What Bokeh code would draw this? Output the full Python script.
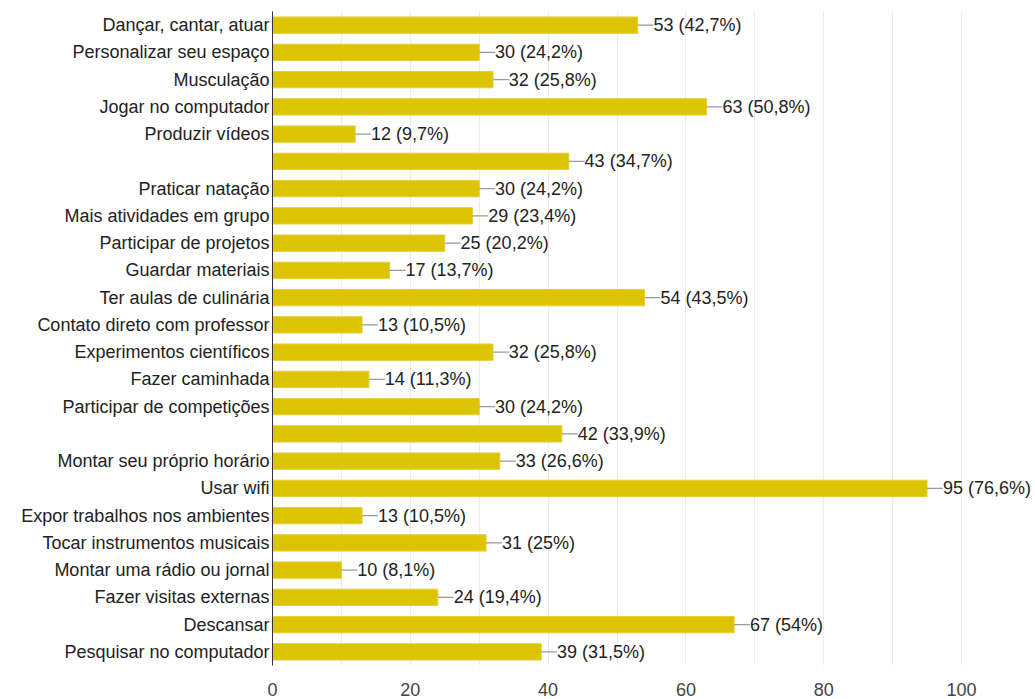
from bokeh.plotting import figure
from bokeh.models import ColumnDataSource, LabelSet, Range1d, FixedTicker
from bokeh.core.properties import value
from bokeh.embed import file_html
from bokeh.resources import INLINE

categories = [
    "Dançar, cantar, atuar", "Personalizar seu espaço", "Musculação",
    "Jogar no computador", "Produzir vídeos", "", "Praticar natação",
    "Mais atividades em grupo", "Participar de projetos", "Guardar materiais",
    "Ter aulas de culinária", "Contato direto com professor",
    "Experimentos científicos", "Fazer caminhada", "Participar de competições",
    "", "Montar seu próprio horário", "Usar wifi",
    "Expor trabalhos nos ambientes", "Tocar instrumentos musicais",
    "Montar uma rádio ou jornal", "Fazer visitas externas", "Descansar",
    "Pesquisar no computador",
]
counts = [53, 30, 32, 63, 12, 43, 30, 29, 25, 17, 54, 13, 32, 14, 30, 42,
          33, 95, 13, 31, 10, 24, 67, 39]
percents = ["42,7%", "24,2%", "25,8%", "50,8%", "9,7%", "34,7%", "24,2%",
            "23,4%", "20,2%", "13,7%", "43,5%", "10,5%", "25,8%", "11,3%",
            "24,2%", "33,9%", "26,6%", "76,6%", "10,5%", "25%", "8,1%",
            "19,4%", "54%", "31,5%"]
x_ticks = [0, 20, 40, 60, 80, 100]
grid_ticks = [0, 10, 20, 30, 40, 50, 60, 70, 80, 90, 100]

n = len(categories)
ys = list(range(n))
lead = 2.3
src = ColumnDataSource(dict(
    y=ys,
    count=counts,
    lead_end=[c + lead for c in counts],
    label=[f"{c} ({p})" for c, p in zip(counts, percents)],
))

FONT = "Liberation Sans"
FS = "18px"
W, H = 1034, 698
LEFT, TOP, BOTTOM = 272, 11, 33
# frame extends to the canvas right edge so the value labels are not clipped;
# 100 units span 689 px as in the reference
x_end = 100 * (W - LEFT) / 689.0

p = figure(width=W, height=H, x_range=Range1d(0, x_end),
           y_range=Range1d(n - 0.5, -0.5),
           output_backend="svg", toolbar_location=None,
           min_border_left=LEFT, min_border_right=0,
           min_border_top=TOP, min_border_bottom=BOTTOM)
p.outline_line_color = None
p.background_fill_color = "white"

p.hbar(y="y", left=0, right="count", height=0.6, source=src,
       fill_color="#DCC400", line_color="#E3CF3A", line_width=1)
p.segment(x0="count", y0="y", x1="lead_end", y1="y", source=src,
          line_color="#9a9a9a", line_width=1.3)
labels = LabelSet(x="lead_end", y="y", text="label", source=src,
                  text_baseline="middle", text_align="left",
                  text_font=value(FONT), text_font_size=value(FS),
                  text_color="#222222")
p.add_layout(labels)

# y axis
p.yaxis.ticker = FixedTicker(ticks=ys)
p.yaxis.major_label_overrides = {i: c for i, c in enumerate(categories)}
p.yaxis.major_label_text_font = FONT
p.yaxis.major_label_text_font_size = FS
p.yaxis.major_label_text_color = "#222222"
p.yaxis.major_tick_line_color = None
p.yaxis.minor_tick_line_color = None
p.yaxis.axis_line_color = "#333333"
p.yaxis.major_label_standoff = -3

# x axis
p.xaxis.ticker = FixedTicker(ticks=x_ticks)
p.xaxis.major_label_text_font = FONT
p.xaxis.major_label_text_font_size = FS
p.xaxis.major_label_text_color = "#444444"
p.xaxis.major_tick_line_color = None
p.xaxis.minor_tick_line_color = None
p.xaxis.axis_line_color = None
p.xaxis.major_label_standoff = 11

p.xgrid.ticker = FixedTicker(ticks=grid_ticks)
p.xgrid.grid_line_color = "#ebebeb"
p.ygrid.grid_line_color = None

open("out.html", "w").write(file_html(p, INLINE))
